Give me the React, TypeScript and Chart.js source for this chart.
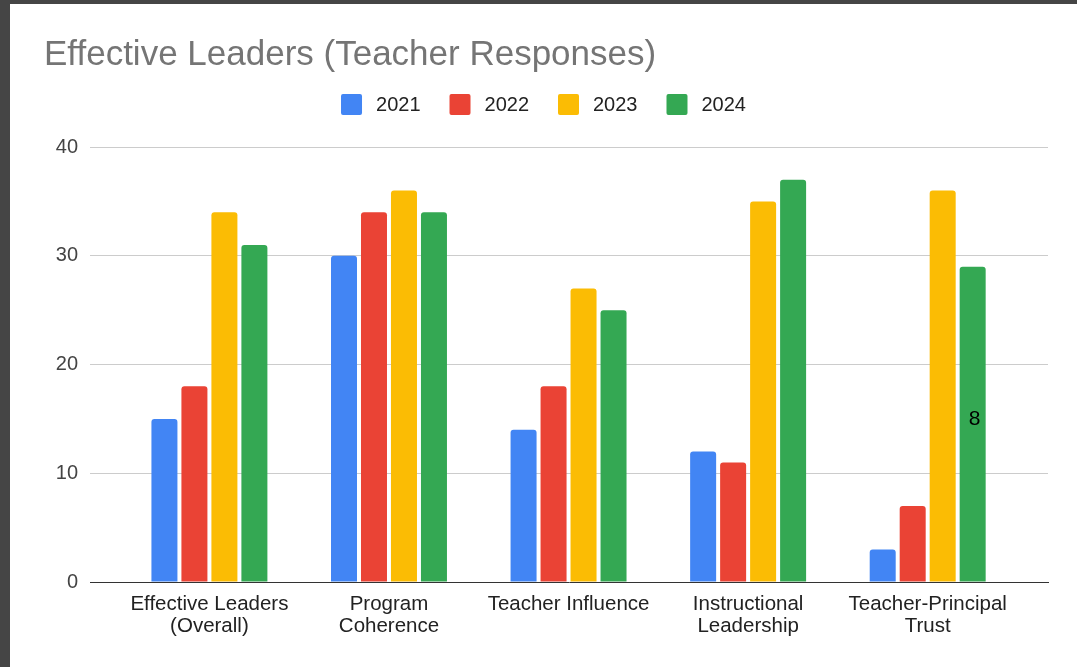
import React, { useEffect, useRef } from "react";
import { Chart, registerables } from "chart.js";

Chart.register(...registerables);

const titleText = "Effective Leaders (Teacher Responses)";
const categories: string[][] = [
  ["Effective Leaders", "(Overall)"],
  ["Program", "Coherence"],
  ["Teacher Influence"],
  ["Instructional", "Leadership"],
  ["Teacher-Principal", "Trust"],
];
const seriesNames = ["2021", "2022", "2023", "2024"];
const seriesColors = ["#4285F4", "#EA4335", "#FBBC04", "#34A853"];
const values2021 = [15, 30, 14, 12, 3];
const values2022 = [18, 34, 18, 11, 7];
const values2023 = [34, 36, 27, 35, 36];
const values2024 = [31, 34, 25, 37, 29];
const seriesValues = [values2021, values2022, values2023, values2024];
const yTicks = [0, 10, 20, 30, 40];
// stray label visible on the chart
const annotationText = "8";
const annotationSeries = 3;
const annotationCategory = 4;
const annotationValue = 15;

const FONT = "'Liberation Sans', Arial, sans-serif";

const decorPlugin = {
  id: "decor",
  afterDraw(chart: any) {
    const ctx = chart.ctx;
    ctx.save();
    // title
    ctx.font = `35px ${FONT}`;
    ctx.fillStyle = "#757575";
    ctx.textAlign = "left";
    ctx.textBaseline = "alphabetic";
    ctx.fillText(titleText, 34, 61);
    // legend
    ctx.font = `20px ${FONT}`;
    const box = 21;
    const gap = 14;
    const itemGap = 29;
    const widths = seriesNames.map((n) => box + gap + ctx.measureText(n).width);
    const total = widths.reduce((a, b) => a + b, 0) + itemGap * (seriesNames.length - 1);
    let x = chart.width / 2 - total / 2;
    const cy = 100.5;
    seriesNames.forEach((n, i) => {
      ctx.fillStyle = seriesColors[i];
      ctx.beginPath();
      (ctx as any).roundRect(x, cy - box / 2, box, box, 2);
      ctx.fill();
      ctx.fillStyle = "#222222";
      ctx.textBaseline = "middle";
      ctx.fillText(n, x + box + gap, cy + 1);
      x += widths[i] + itemGap;
    });
    // annotation
    const el = chart.getDatasetMeta(annotationSeries).data[annotationCategory];
    if (el) {
      ctx.font = `21px ${FONT}`;
      ctx.fillStyle = "#000000";
      ctx.textAlign = "center";
      ctx.textBaseline = "middle";
      ctx.fillText(annotationText, el.x + 2, chart.scales.y.getPixelForValue(annotationValue));
    }
    ctx.restore();
  },
};

export default function App() {
  const ref = useRef<HTMLCanvasElement | null>(null);
  useEffect(() => {
    if (!ref.current) return;
    const chart = new Chart(ref.current, {
      type: "bar",
      data: {
        datasets: seriesNames.map((name, i) => ({
          label: name,
          data: seriesValues[i].map((v, j) => ({ x: j, y: v })),
          backgroundColor: seriesColors[i],
          borderRadius: 3,
          borderSkipped: "bottom",
          categoryPercentage: 0.668,
          barPercentage: 0.867,
        })),
      } as any,
      options: {
        animation: false,
        responsive: false,
        layout: { padding: { top: 143, right: 29, left: 0, bottom: 0 } },
        plugins: {
          legend: { display: false },
          title: { display: false },
          tooltip: { enabled: false },
        },
        scales: {
          x: {
            type: "linear",
            min: -0.665,
            max: 4.67,
            offset: false,
            grid: { display: false },
            border: { display: true, color: "#333333", width: 1 },
            afterBuildTicks: (scale: any) => {
              scale.ticks = categories.map((_, i) => ({ value: i }));
            },
            afterFit: (scale: any) => {
              scale.height = 85;
            },
            ticks: {
              autoSkip: false,
              maxRotation: 0,
              padding: 3,
              color: "#222222",
              font: { family: FONT, size: 20.5, lineHeight: 1.08 },
              callback: (v: any) => categories[Math.round(Number(v))] ?? "",
            },
          },
          y: {
            min: 0,
            max: 40,
            afterBuildTicks: (scale: any) => {
              scale.ticks = yTicks.map((v) => ({ value: v }));
            },
            afterFit: (scale: any) => {
              scale.width = 80;
            },
            grid: {
              color: (c: any) => (c.tick && c.tick.value === 0 ? "rgba(0,0,0,0)" : "#cccccc"),
              drawTicks: false,
            },
            border: { display: false },
            ticks: {
              padding: 12,
              color: "#444444",
              font: { family: FONT, size: 20 },
            },
          },
        },
      } as any,
      plugins: [decorPlugin],
    });
    return () => chart.destroy();
  }, []);

  return (
    <div style={{ position: "fixed", left: 0, top: 0, width: 1077, height: 667, background: "#454545" }}>
      <div style={{ position: "absolute", left: 10, top: 4, width: 1067, height: 663, background: "#ffffff" }}>
        <canvas ref={ref} width={1067} height={663} style={{ display: "block" }} />
      </div>
    </div>
  );
}
